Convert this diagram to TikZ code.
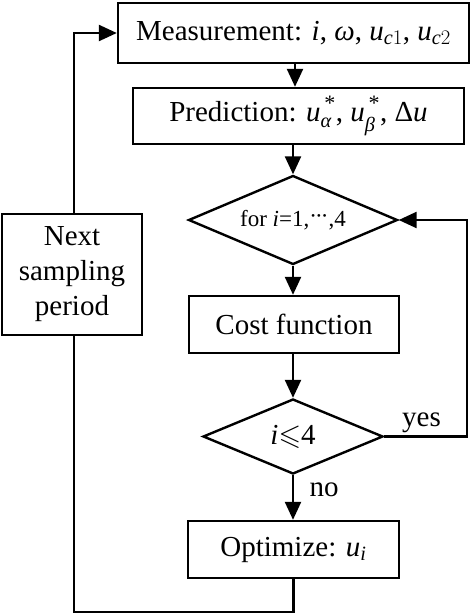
\documentclass[tikz,border=0pt]{standalone}
\usepackage{amsmath,amssymb}
\usepackage{fontspec}
\setmainfont{Liberation Serif}
\usetikzlibrary{shapes.geometric,arrows.meta}
\newcommand\vi[1]{\text{\itshape #1}}
\newcommand\smallstar{\text{\fontsize{22}{22}\selectfont\raisebox{2pt}{\,*}}}
\begin{document}
\begin{tikzpicture}[x=1pt,y=-1pt,
  big/.style={font=\fontsize{29}{35}\selectfont},
  box/.style={draw,line width=2.4pt,inner sep=0pt,align=center,big},
  dia/.style={draw,diamond,line width=2.4pt,inner sep=0pt,aspect=2.35},
  arr/.style={line width=2.4pt,-{Triangle[length=18pt,width=16pt]}},
  ln/.style={line width=2.4pt}]
\useasboundingbox (0,0) rectangle (474,614);
\node[box,minimum width=351pt,minimum height=60pt] (meas) at (293.5,33)
  {Measurement: \vi{i}, \vi{ω}, $\vi{u}_{\vi{c}1}$, $\vi{u}_{\vi{c}2}$};
\node[box,minimum width=331pt,minimum height=56pt] (pred) at (298.5,116)
  {Prediction: $\vi{u}_{\vi{α}}^{\smallstar}$, $\vi{u}_{\vi{β}}^{\smallstar}$, Δ\vi{u}};
\node[dia,minimum width=209pt,minimum height=89pt,font=\fontsize{23}{28}\selectfont] (d1) at (293,220)
  {for \vi{i}=1,\raisebox{0.12em}{·\kern-0.08em·\kern-0.08em·},4};
\node[box,minimum width=210pt,minimum height=57pt] (cost) at (294,324.5) {Cost function};
\node[dia,minimum width=180pt,minimum height=75pt,big] (d2) at (293,436.5)
  {\vi{i}$\leqslant$4};
\node[box,minimum width=211pt,minimum height=57pt] (opt) at (293.5,549.5)
  {Optimize: $\vi{u}_{\vi{i}}$};
\node[box,minimum width=140pt,minimum height=121pt] (next) at (72,274.5)
  {Next\\sampling\\period};
\coordinate (yr) at (467,0);
\coordinate (bot) at (0,612);
\coordinate (lx) at (74,0);
\draw[arr] (meas.south -| 295,0) -- (pred.north -| 295,0);
\draw[arr] (pred.south -| d1.north) -- (d1.north);
\draw[arr] (d1.south) -- (cost.north -| d1.south);
\draw[arr] (cost.south -| d2.north) -- (d2.north);
\draw[arr] (d2.south) -- (opt.north -| d2.south)
  node[pos=0.32,right=12pt,big] (no) {no};
\draw[arr] (d2.east) -- (d2.east -| yr)
  node[pos=0.45,above=-1pt,big] (yes) {yes}
  |- (d1.east);
\draw[ln] (opt.south) |- (bot -| lx) -- (next.south -| lx);
\draw[arr] (next.north -| lx) |- (meas.west);
\end{tikzpicture}
\end{document}
